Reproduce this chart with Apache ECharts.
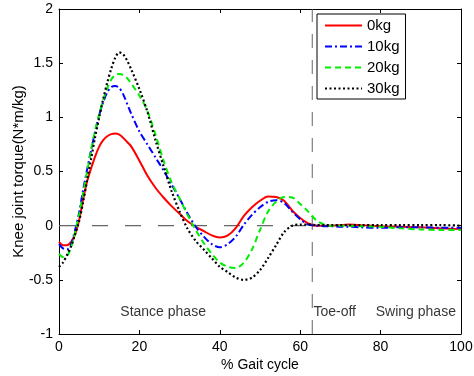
<!DOCTYPE html>
<html><head><meta charset="utf-8">
<script src="https://cdn.jsdelivr.net/npm/echarts@6/dist/echarts.min.js"></script>
<style>html,body{margin:0;padding:0;background:#fff}#c{width:474px;height:376px}</style>
</head><body><div id="c"></div>
<script>
const gait = [0,1,2,3,4,5,6,7,8,9,10,11,12,13,14,15,16,17,18,20,22,24,26,28,30,32,34,36,38,40,42,44,46,48,50,52,54,56,58,60,62,64,66,68,70,72,75,80,85,90,95,100];
const kg0  = [-0.15,-0.18,-0.18,-0.15,-0.08,0.05,0.24,0.41,0.53,0.64,0.73,0.79,0.825,0.845,0.85,0.84,0.81,0.77,0.73,0.60,0.46,0.35,0.26,0.18,0.11,0.04,-0.01,-0.05,-0.09,-0.11,-0.09,-0.02,0.09,0.17,0.23,0.27,0.265,0.23,0.14,0.07,0.02,0.0,0.0,0.0,0.005,0.01,0.005,-0.005,-0.01,-0.015,-0.025,-0.03];
const kg10 = [-0.17,-0.21,-0.22,-0.17,-0.04,0.12,0.33,0.52,0.70,0.87,1.02,1.14,1.23,1.28,1.29,1.27,1.21,1.12,1.03,0.87,0.75,0.63,0.51,0.38,0.25,0.11,-0.01,-0.10,-0.17,-0.20,-0.17,-0.10,0.01,0.10,0.17,0.22,0.235,0.21,0.13,0.06,0.01,0.0,-0.005,-0.005,-0.01,-0.01,-0.015,-0.02,-0.015,-0.015,-0.02,-0.02];
const kg20 = [-0.26,-0.29,-0.28,-0.20,-0.06,0.10,0.30,0.50,0.70,0.88,1.03,1.16,1.27,1.35,1.39,1.40,1.39,1.36,1.31,1.20,1.06,0.84,0.60,0.40,0.25,0.10,-0.04,-0.16,-0.26,-0.34,-0.38,-0.39,-0.34,-0.22,-0.04,0.13,0.22,0.265,0.26,0.20,0.13,0.05,0.01,0.0,0.0,0.0,-0.005,-0.01,-0.025,-0.035,-0.04,-0.04];
const kg30 = [-0.38,-0.34,-0.27,-0.19,-0.08,0.04,0.22,0.42,0.62,0.82,1.00,1.17,1.32,1.45,1.55,1.60,1.58,1.52,1.44,1.26,1.05,0.79,0.55,0.32,0.13,-0.03,-0.14,-0.22,-0.30,-0.38,-0.43,-0.48,-0.50,-0.48,-0.41,-0.30,-0.18,-0.06,0.0,0.01,0.01,0.005,0.005,0.005,0.005,0.005,0.005,0.005,0.005,0.005,0.005,0.0];
const seriesNames = ['0kg','10kg','20kg','30kg'];
const xTicks = [0,20,40,60,80,100];
const yTicks = [-1,-0.5,0,0.5,1,1.5,2];
const zeroLine = [[0,0],[63,0]];
const toeOffLine = [[63,-1],[63,2]];
const phaseNames = ['Stance phase','Toe-off','Swing phase'];
const phaseX = [25.9,63.3,78.8];
const phaseY = [-0.8,-0.8,-0.8];

const FONT = 'Liberation Sans, Arial, sans-serif';
const chart = echarts.init(document.getElementById('c'), null, {renderer:'canvas'});
function pairs(ys){ return gait.map((x,i)=>[x,ys[i]]); }
const colors = ['#ff0000','#0000ff','#00ee00','#000000'];
const types = ['solid',[7,3,2,3],[6,4],[2,2.5]];
const datas = [kg0,kg10,kg20,kg30];
const lineSeries = datas.map((d,i)=>({
  name: seriesNames[i], type:'line', data: pairs(d), smooth:0.3, symbol:'none',
  lineStyle:{color:colors[i], width:i===3?2.2:2, type:types[i]},
  itemStyle:{color:colors[i]}, z:3+i, animation:false
}));
const opt = {
  animation:false,
  backgroundColor:'#fff',
  grid:{left:59, right:13, top:9, bottom:42, containLabel:false, outerBoundsMode:'none'},
  legend:{
    data: seriesNames, orient:'vertical', left:317, top:14,
    backgroundColor:'#fff', borderColor:'#000', borderWidth:1,
    padding:[4,6,3,7], itemWidth:37, itemHeight:14, itemGap:6,
    itemStyle:{opacity:0},
    textStyle:{fontFamily:FONT, fontSize:15, color:'#000'},
    selectedMode:false
  },
  xAxis:[{
    type:'value', min:0, max:100, interval:20,
    name:'% Gait cycle', nameLocation:'middle', nameGap:24, nameMoveOverlap:false,
    nameTextStyle:{fontFamily:FONT, fontSize:14, color:'#000'},
    axisLine:{onZero:false, lineStyle:{color:'#000', width:1}},
    axisTick:{inside:true, length:4, lineStyle:{color:'#000'}},
    axisLabel:{fontFamily:FONT, fontSize:14, color:'#000', margin:6},
    splitLine:{show:false}
  },{
    type:'value', min:0, max:100, interval:20, position:'top',
    axisLine:{onZero:false, lineStyle:{color:'#000', width:1}},
    axisTick:{inside:true, length:4, lineStyle:{color:'#000'}},
    axisLabel:{show:false}, splitLine:{show:false}
  }],
  yAxis:[{
    type:'value', min:-1, max:2, interval:0.5,
    name:'Knee joint torque(N*m/kg)', nameLocation:'middle', nameGap:33, nameMoveOverlap:false,
    nameTextStyle:{fontFamily:FONT, fontSize:15, color:'#000'},
    axisLine:{show:true, onZero:false, lineStyle:{color:'#000', width:1}},
    axisTick:{show:true, inside:true, length:4, lineStyle:{color:'#000'}},
    axisLabel:{fontFamily:FONT, fontSize:14, color:'#000', margin:6},
    splitLine:{show:false}
  },{
    type:'value', min:-1, max:2, interval:0.5, position:'right',
    axisLine:{show:true, onZero:false, lineStyle:{color:'#000', width:1}},
    axisTick:{show:true, inside:true, length:4, lineStyle:{color:'#000'}},
    axisLabel:{show:false}, splitLine:{show:false}
  }],
  series:[
    {type:'line', data:zeroLine, symbol:'none', silent:true, z:1,
     lineStyle:{color:'#666', width:1.2, type:[16,17]}},
    {type:'line', data:toeOffLine, symbol:'none', silent:true, z:1,
     lineStyle:{color:'#666', width:1, type:[14,12]}},
    ...lineSeries,
    {type:'scatter', symbolSize:0, silent:true, z:10,
     data: phaseNames.map((n,i)=>({name:n, value:[phaseX[i],phaseY[i]],
       label:{align: i===0?'center':'left'}})),
     label:{show:true, position:'inside', formatter:p=>p.name,
       fontFamily:FONT, fontSize:14, color:'#000'}}
  ]
};
chart.setOption(opt);
</script></body></html>
